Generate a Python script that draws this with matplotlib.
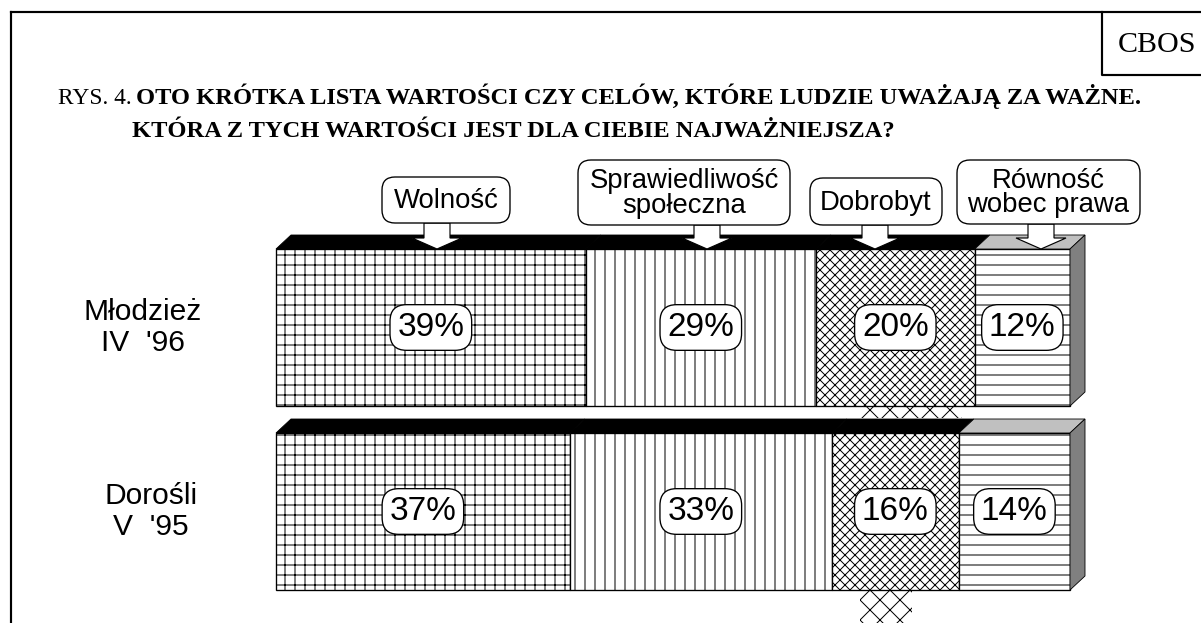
import matplotlib
matplotlib.use('Agg')
import matplotlib.pyplot as plt
from matplotlib.patches import Polygon, FancyBboxPatch
import numpy as np

# data
categories = ['Wolność', 'Sprawiedliwość\nspołeczna', 'Dobrobyt', 'Równość\nwobec prawa']
groups = ['Młodzież\nIV  \'96', 'Dorośli\nV  \'95']
youth_96 = [39, 29, 20, 12]
adults_95 = [37, 33, 16, 14]
values = [youth_96, adults_95]

hatches = ['++', '||', 'xxxx', '--']
top_colors = ['black', 'black', 'black', '#c0c0c0']
side_color = '#808080'

W, H, DPI = 1201, 623, 120
plt.rcParams['hatch.linewidth'] = 0.6
SANS = 'Liberation Sans'
SERIF = 'Liberation Serif'

fig = plt.figure(figsize=(W / DPI, H / DPI), dpi=DPI)

# bar axes: 0..100 % spans pixels 276..1070, rows 184 px apart
X0, X1 = 276, 1070
ppx = (X1 - X0) / 100.
Y0, ROW = 327.5, 184.
ax = fig.add_axes([0, 0, 1, 1])
ax.set_xlim(-X0 / ppx, (W - X0) / ppx)
ax.set_ylim((H - Y0) / ROW, -Y0 / ROW)
ax.axis('off')

bh = 157 / ROW
dx = 15 / ppx
dy = 14 / ROW
label_x = [143, 151]

for i, vals in enumerate(values):
    lefts = np.concatenate([[0], np.cumsum(vals)[:-1]])
    ytop = i - bh / 2
    ybot = i + bh / 2
    for j, (v, l) in enumerate(zip(vals, lefts)):
        ax.barh(i, v, left=l, height=bh, color='white', edgecolor='black',
                lw=0.8, hatch=hatches[j])
        ax.add_patch(Polygon([(l, ytop), (l + dx, ytop - dy), (l + v + dx, ytop - dy),
                              (l + v, ytop)], closed=True, fc=top_colors[j],
                             ec='black', lw=0.5))
        ax.text(l + v / 2, i, f'{v}%', ha='center', va='center', fontsize=20,
                family=SANS, zorder=5,
                bbox=dict(boxstyle='round,pad=0.22,rounding_size=0.5',
                          fc='white', ec='black', lw=0.8))
    total = sum(vals)
    ax.add_patch(Polygon([(total, ytop), (total + dx, ytop - dy), (total + dx, ybot - dy),
                          (total, ybot)], closed=True, fc=side_color, ec='black', lw=0.5))
    ax.text((label_x[i] - X0) / ppx, i, groups[i], ha='center', va='center',
            fontsize=18, family=SANS, linespacing=1.1)

# overlay in pixel coordinates for frame, title and callouts
ov = fig.add_axes([0, 0, 1, 1])
ov.set_xlim(0, W)
ov.set_ylim(H, 0)
ov.axis('off')

ov.plot([11, 11], [H, 12], color='black', lw=1.3)
ov.plot([11, W], [12, 12], color='black', lw=1.3)
ov.plot([1102, 1102, W], [12, 75, 75], color='black', lw=1.3)
ov.text(1118, 52, 'CBOS', fontsize=18, family=SERIF, va='baseline')

ov.text(58, 104, 'RYS. 4.', fontsize=14, family=SERIF, va='baseline')
ov.text(136, 104, 'OTO KRÓTKA LISTA WARTOŚCI CZY CELÓW, KTÓRE LUDZIE UWAŻAJĄ ZA WAŻNE.',
        fontsize=14.7, family=SERIF, weight='bold', va='baseline')
ov.text(132, 137, 'KTÓRA Z TYCH WARTOŚCI JEST DLA CIEBIE NAJWAŻNIEJSZA?',
        fontsize=14.7, family=SERIF, weight='bold', va='baseline')

# callout boxes: (left, top, right, bottom, arrow x)
callouts = [(382, 177, 510, 223, 437),
            (578, 160, 790, 225, 707),
            (810, 178, 942, 225, 875),
            (957, 160, 1140, 224, 1041)]
tip_y = Y0 - 157 / 2
for name, (x0, y0, x1, y1, axx) in zip(categories, callouts):
    head = tip_y - 11
    ov.add_patch(Polygon([(axx - 13, y1), (axx + 13, y1), (axx + 13, head), (axx + 25, head),
                          (axx, tip_y), (axx - 25, head), (axx - 13, head)],
                         closed=True, fc='white', ec='black', lw=0.7, zorder=3))
    ov.add_patch(FancyBboxPatch((x0, y0), x1 - x0, y1 - y0,
                                boxstyle='round,pad=0,rounding_size=13',
                                fc='white', ec='black', lw=0.8, zorder=4))
    ov.text((x0 + x1) / 2, (y0 + y1) / 2 + 1, name, ha='center', va='center',
            fontsize=16.5, family=SANS, linespacing=0.95, zorder=5)

# hatched arrow remnants under Dobrobyt
ov.add_patch(Polygon([(860, 407), (962, 407), (962, 418), (860, 418)], closed=True,
                     fill=False, ec='black', lw=0, hatch='xx'))
ov.add_patch(Polygon([(860, 591), (912, 591), (912, H), (860, H)], closed=True,
                     fill=False, ec='black', lw=0, hatch='xx'))

fig.savefig('out.png', dpi=DPI)
